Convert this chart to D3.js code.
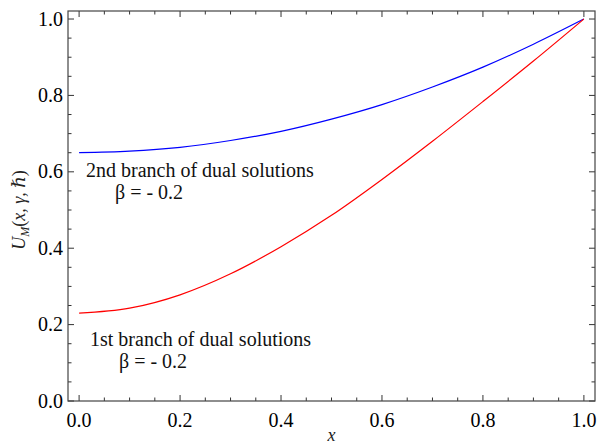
<!DOCTYPE html>
<html>
<head>
<meta charset="utf-8">
<script src="https://cdn.jsdelivr.net/npm/d3@7"></script>
<style>
  body { margin: 0; background: #fff; }
</style>
</head>
<body>
<svg id="chart"></svg>
<script>
// values
const xs = [0, 0.1, 0.2, 0.3, 0.4, 0.5, 0.6, 0.7, 0.8, 0.9, 1.0];
const firstBranch = [0.230, 0.243, 0.278, 0.333, 0.404, 0.486, 0.580, 0.680, 0.784, 0.890, 1.0];
const secondBranch = [0.650, 0.654, 0.664, 0.682, 0.706, 0.738, 0.776, 0.822, 0.874, 0.934, 1.0];
const xTickLabels = ["0.0", "0.2", "0.4", "0.6", "0.8", "1.0"];
const yTickLabels = ["0.0", "0.2", "0.4", "0.6", "0.8", "1.0"];

const SERIF = "Tinos, 'Liberation Serif', 'DejaVu Serif', 'Noto Serif', 'Times New Roman', Times, serif";

class LinePlot {
    frame = { left: 68, right: 595, top: 11, bottom: 401 }

    constructor(svg, width = 605, height = 445) {
        this.svg = svg;
        this.width = width;
        this.height = height;
    }

    initialize() {
        this.svg = d3.select(this.svg)
            .attr("width", this.width)
            .attr("height", this.height)
            .style("font-family", SERIF);

        this.x = d3.scaleLinear().domain([-0.022, 1.022]).range([this.frame.left, this.frame.right]);
        this.y = d3.scaleLinear().domain([0, 1.021]).range([this.frame.bottom, this.frame.top]);
    }

    drawFrame() {
        const f = this.frame, x = this.x, y = this.y;
        const major = d3.range(0, 1.0001, 0.2);
        const minor = d3.range(0, 1.0001, 0.05).filter(v => Math.abs(v * 5 - Math.round(v * 5)) > 1e-6);

        // ticks on all four sides, pointing inward
        const g = this.svg.append("g").attr("stroke", "#333").attr("stroke-width", 1);
        const tick = (list, len) => {
            list.forEach(v => {
                g.append("line").attr("x1", x(v)).attr("x2", x(v)).attr("y1", f.bottom).attr("y2", f.bottom - len);
                g.append("line").attr("x1", x(v)).attr("x2", x(v)).attr("y1", f.top).attr("y2", f.top + len);
                g.append("line").attr("y1", y(v)).attr("y2", y(v)).attr("x1", f.left).attr("x2", f.left + len);
                g.append("line").attr("y1", y(v)).attr("y2", y(v)).attr("x1", f.right).attr("x2", f.right - len);
            });
        };
        tick(major, 6);
        tick(minor, 3.5);

        this.svg.append("rect")
            .attr("x", f.left).attr("y", f.top)
            .attr("width", f.right - f.left).attr("height", f.bottom - f.top)
            .attr("fill", "none").attr("stroke", "#444").attr("stroke-width", 1.2);

        this.svg.append("g").selectAll("text")
            .data(xTickLabels)
            .join("text")
            .attr("x", (d, i) => x(major[i]))
            .attr("y", 427)
            .attr("text-anchor", "middle")
            .style("font-size", "20px")
            .text(d => d);

        this.svg.append("g").selectAll("text")
            .data(yTickLabels)
            .join("text")
            .attr("x", 63)
            .attr("y", (d, i) => y(major[i]) + 6.5)
            .attr("text-anchor", "end")
            .style("font-size", "20px")
            .text(d => d);

        // axis labels
        this.svg.append("text")
            .attr("x", (f.left + f.right) / 2).attr("y", 441)
            .attr("text-anchor", "middle")
            .style("font-size", "18px").style("font-style", "italic").attr("fill", "#222")
            .text("x");

        const yl = this.svg.append("text")
            .attr("transform", `translate(25, ${(f.top + f.bottom) / 2 + 4}) rotate(-90)`)
            .attr("text-anchor", "middle")
            .style("font-size", "18px").style("font-style", "italic").attr("fill", "#222");
        yl.append("tspan").text("U");
        yl.append("tspan").attr("dy", 4).style("font-size", "12px").text("M");
        yl.append("tspan").attr("dy", -4).style("font-style", "normal").text("(");
        yl.append("tspan").text("x, γ, ");
        yl.append("tspan").style("font-style", "normal").text("ℏ)");
    }

    update() {
        const line = d3.line()
            .x(d => this.x(d[0]))
            .y(d => this.y(d[1]))
            .curve(d3.curveMonotoneX);

        const series = [
            { values: secondBranch, color: "#0000ff" },
            { values: firstBranch, color: "#ff0000" }
        ];

        this.svg.append("g").selectAll("path")
            .data(series)
            .join("path")
            .attr("d", s => line(xs.map((v, i) => [v, s.values[i]])))
            .attr("fill", "none")
            .attr("stroke", s => s.color)
            .attr("stroke-width", 1.2);

        const notes = [
            { text: "2nd branch of dual solutions", x: 86, y: 177 },
            { text: "β = - 0.2", x: 115, y: 199 },
            { text: "1st branch of dual solutions", x: 90, y: 346 },
            { text: "β = - 0.2", x: 119, y: 368 }
        ];
        this.svg.append("g").selectAll("text")
            .data(notes)
            .join("text")
            .attr("x", d => d.x)
            .attr("y", d => d.y)
            .style("font-size", "20px")
            .attr("fill", "#111")
            .text(d => d.text);
    }
}

const plot = new LinePlot(document.getElementById("chart"));
plot.initialize();
plot.drawFrame();
plot.update();
</script>
</body>
</html>
